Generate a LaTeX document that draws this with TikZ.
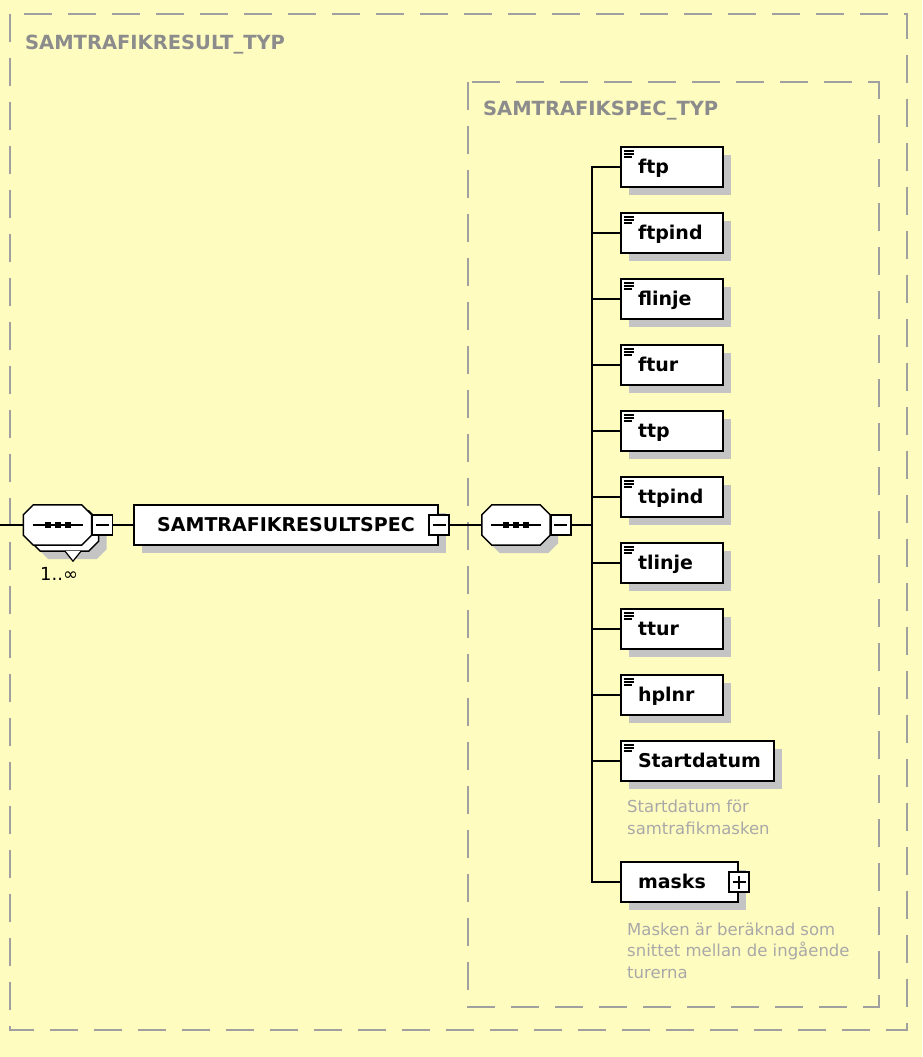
\documentclass[tikz,border=0pt]{standalone}
\usepackage{fontspec}
\setmainfont{DejaVu Sans}
\usepackage{tikz}
\usetikzlibrary{positioning,shadows}

\definecolor{bgyellow}{HTML}{FFFCC0}
\definecolor{dashgray}{HTML}{A0A0A0}
\definecolor{labelgray}{HTML}{8C8C8C}
\definecolor{notegray}{HTML}{A8A8A8}
\definecolor{shadowgray}{HTML}{C4C4C4}

% octagon round a sequence node, shifted by #2,#3
\newcommand\octagon[3]{([xshift=#2+10pt,yshift=#3]#1.north west) -- ([xshift=#2-10pt,yshift=#3]#1.north east)
  -- ([xshift=#2,yshift=#3-10pt]#1.north east) -- ([xshift=#2,yshift=#3+10pt]#1.south east)
  -- ([xshift=#2-10pt,yshift=#3]#1.south east) -- ([xshift=#2+10pt,yshift=#3]#1.south west)
  -- ([xshift=#2,yshift=#3+10pt]#1.south west) -- ([xshift=#2,yshift=#3-10pt]#1.north west) -- cycle}

\begin{document}
\begin{tikzpicture}[x=1pt,y=-1pt,
    typebox/.style={draw=dashgray,line width=2pt,dash pattern=on 28pt off 16pt},
    typelabel/.style={anchor=base west,inner sep=0pt,text=labelgray,
      font=\fontsize{19.5}{24}\selectfont\bfseries},
    dropped/.style={drop shadow={shadow xshift=8pt,shadow yshift=-8pt,
      fill=shadowgray,opacity=1}},
    elem/.style={draw,line width=2pt,fill=white,anchor=west,minimum height=40pt,
      inner xsep=17pt,text width=68pt,align=left,text height=12pt,text depth=0pt,
      font=\fontsize{19}{23}\selectfont\bfseries,dropped},
    leaf/.style={elem,path picture={
      \draw[line width=1.2pt] ([xshift=3pt,yshift=-4pt]path picture bounding box.north west) -- ++(10,0);
      \draw[line width=1.2pt] ([xshift=3pt,yshift=-7pt]path picture bounding box.north west) -- ++(10,0);
      \draw[line width=1.2pt] ([xshift=3pt,yshift=-10pt]path picture bounding box.north west) -- ++(8,0);}},
    seqnode/.style={minimum width=68pt,minimum height=40pt,inner sep=0pt},
    seqline/.style={draw,line width=1.5pt,fill=white},
    togglebox/.style={draw,line width=1.5pt,fill=white,minimum width=20pt,
      minimum height=20pt,inner sep=0pt},
    minusbox/.style={togglebox,path picture={
      \draw[line width=2pt] ([xshift=-6.5pt]path picture bounding box.center) -- ([xshift=6.5pt]path picture bounding box.center);}},
    plusbox/.style={togglebox,path picture={
      \draw[line width=1.5pt] ([xshift=-6.5pt]path picture bounding box.center) -- ([xshift=6.5pt]path picture bounding box.center);
      \draw[line width=1.5pt] ([yshift=-6.5pt]path picture bounding box.center) -- ([yshift=6.5pt]path picture bounding box.center);}},
    note/.style={anchor=base west,inner sep=0pt,align=left,text=notegray,
      font=\fontsize{16.5}{21.5}\selectfont},
    conn/.style={draw,line width=2pt}]

    \fill[bgyellow] (0,0) rectangle (922,1057);
    \useasboundingbox (0,0) rectangle (922,1057);

    % type boxes
    \draw[typebox] (10,14) rectangle (907,1030);
    \node[typelabel] (resulttyp) at (25,50) {SAMTRAFIKRESULT\_TYP};
    \draw[typebox] (468,82) rectangle (879,1007);
    \node[typelabel] (spectyp) at (483,115) {SAMTRAFIKSPEC\_TYP};

    % outer sequence, 1..oo (stacked)
    \node[seqnode] (seqaback) at (64.5,531) {};
    \node[seqnode] (seqa) at (57.5,525) {};
    \fill[shadowgray] \octagon{seqaback}{8pt}{-8pt};
    \draw[seqline] \octagon{seqaback}{0pt}{0pt};
    \draw[line width=1.2pt,fill=white] ([xshift=0.5pt]seqaback.south) -- ++(8,10) -- ++(8,-10);
    \draw[seqline] \octagon{seqa}{0pt}{0pt};
    \draw[line width=1.5pt] ([xshift=-25pt]seqa.center) -- ([xshift=25pt]seqa.center);
    \fill ([xshift=-10pt]seqa.center) +(-3,-3) rectangle +(3,3);
    \fill (seqa.center) +(-3,-3) rectangle +(3,3);
    \fill ([xshift=10pt]seqa.center) +(-3,-3) rectangle +(3,3);
    \node[minusbox,right=0pt of seqa] (seqamin) {};
    \node[anchor=base west,inner sep=0pt,font=\fontsize{18}{22}\selectfont] (seqaocc) at (40,580) {1..∞};

    \node[elem,align=center,text width=270pt] (spec) at (133,525) {SAMTRAFIKRESULTSPEC};
    \node[minusbox] (specmin) at (spec.east) {};

    % inner sequence
    \node[seqnode] (seqb) at (516,525) {};
    \fill[shadowgray] \octagon{seqb}{8pt}{-8pt};
    \draw[seqline] \octagon{seqb}{0pt}{0pt};
    \draw[line width=1.5pt] ([xshift=-25pt]seqb.center) -- ([xshift=25pt]seqb.center);
    \fill ([xshift=-10pt]seqb.center) +(-3,-3) rectangle +(3,3);
    \fill (seqb.center) +(-3,-3) rectangle +(3,3);
    \fill ([xshift=10pt]seqb.center) +(-3,-3) rectangle +(3,3);
    \node[minusbox,right=0pt of seqb] (seqbmin) {};

    % child elements
    \node[leaf] (ftp)    at (620,167) {ftp};
    \node[leaf] (ftpind) at (620,233) {ftpind};
    \node[leaf] (flinje) at (620,299) {flinje};
    \node[leaf] (ftur)   at (620,365) {ftur};
    \node[leaf] (ttp)    at (620,431) {ttp};
    \node[leaf] (ttpind) at (620,497) {ttpind};
    \node[leaf] (tlinje) at (620,563) {tlinje};
    \node[leaf] (ttur)   at (620,629) {ttur};
    \node[leaf] (hplnr)  at (620,695) {hplnr};
    \node[leaf,text width=119pt] (startdatum) at (620,761) {Startdatum};
    \node[elem,text width=83pt] (masks) at (620,882) {masks};
    \node[plusbox] (masksplus) at (masks.east) {};

    \node[note] (startnote) at (627,834) {Startdatum för\\samtrafikmasken};
    \node[note] (masksnote) at (627,978) {Masken är beräknad som\\snittet mellan de ingående\\turerna};

    % connectors
    \coordinate (inlet) at (0,525);
    \coordinate (bus) at (592,525);
    \draw[conn] (inlet) -- (seqa);
    \draw[conn] (seqamin) -- (spec);
    \draw[conn] (specmin) -- (seqb);
    \draw[conn] (seqbmin) -- (bus);
    \draw[conn] (ftp.west) -| (bus) |- (masks.west);
    \draw[conn] (ftpind.west) -- (ftpind.west -| bus);
    \draw[conn] (flinje.west) -- (flinje.west -| bus);
    \draw[conn] (ftur.west) -- (ftur.west -| bus);
    \draw[conn] (ttp.west) -- (ttp.west -| bus);
    \draw[conn] (ttpind.west) -- (ttpind.west -| bus);
    \draw[conn] (tlinje.west) -- (tlinje.west -| bus);
    \draw[conn] (ttur.west) -- (ttur.west -| bus);
    \draw[conn] (hplnr.west) -- (hplnr.west -| bus);
    \draw[conn] (startdatum.west) -- (startdatum.west -| bus);
\end{tikzpicture}
\end{document}
